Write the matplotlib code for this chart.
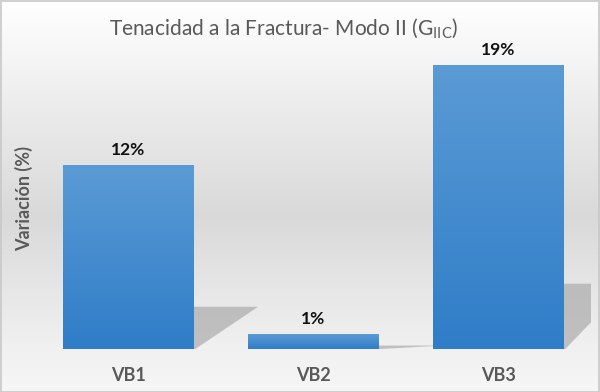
import numpy as np
import matplotlib.pyplot as plt
from matplotlib.colors import LinearSegmentedColormap
from matplotlib.patches import Polygon, Rectangle

categorias = ['VB1', 'VB2', 'VB3']
variacion = [12.3, 1.0, 19.0]
etiquetas = ['12%', '1%', '19%']

plt.rcParams['font.family'] = ['Lato', 'DejaVu Sans']

fig = plt.figure(figsize=(6, 3.92), dpi=100)

# fondo con degradado vertical
bg = fig.add_axes([0, 0, 1, 1], zorder=-10)
bg_cmap = LinearSegmentedColormap.from_list(
    'bg', [(0, '#f6f6f6'), (0.12, '#f0f0f0'), (0.45, '#d9d9d9'), (1, '#ffffff')])
grad = np.linspace(0, 1, 256).reshape(-1, 1)
bg.imshow(grad, aspect='auto', cmap=bg_cmap, extent=[0, 1, 0, 1], origin='lower')
bg.add_patch(Rectangle((0.001, 0.001), 0.998, 0.997, fill=False,
                       edgecolor='#c8c8c8', lw=1.2, transform=bg.transAxes))
bg.axis('off')

ax = fig.add_axes([0.06, 0.1097, 0.925, 0.7627])
ax.set_facecolor('none')
x = np.arange(len(categorias))
ancho = 0.708
bars = ax.bar(x, variacion, width=ancho, color='none', edgecolor='none', zorder=3)

# sombras en perspectiva
for b in bars:
    x1 = b.get_x() + b.get_width()
    h = b.get_height() * 0.23
    w = b.get_width()
    sombra = Polygon([(x1, 0), (x1, h), (x1 + 0.49 * w, h), (x1 + 0.01 * w, 0)],
                     closed=True, facecolor='#ababab', edgecolor='none',
                     alpha=0.7, zorder=2)
    ax.add_patch(sombra)

# barras con degradado
bar_cmap = LinearSegmentedColormap.from_list('barra', ['#2f7dc8', '#5b9bd5'])
for b in bars:
    x0, y0 = b.get_x(), b.get_y()
    im = ax.imshow(grad, aspect='auto', cmap=bar_cmap, origin='lower',
                   extent=[x0, x0 + b.get_width(), y0, y0 + b.get_height()],
                   zorder=3)
    im.set_clip_path(b)

ax.set_xlim(-0.5, 2.5)
ax.set_ylim(0, 20)

for b, txt in zip(bars, etiquetas):
    ax.text(b.get_x() + b.get_width() / 2, b.get_height() + 0.45, txt,
            ha='center', va='bottom', fontsize=12.5, fontweight='bold',
            color='#111111', zorder=5)

ax.set_xticks(x)
ax.set_xticklabels(categorias, fontsize=13, fontweight='bold', color='#595959')
ax.tick_params(axis='x', length=0, pad=13)
ax.set_yticks([])
for s in ax.spines.values():
    s.set_visible(False)

ax.set_ylabel('Variación (%)', fontsize=13, fontweight='bold', color='#595959')
ax.yaxis.set_label_coords(-0.006, 0.505)

fig.text(0.472, 0.927, r'Tenacidad a la Fractura- Modo II (G$\mathregular{_{IIC}}$)',
         ha='center', va='center', fontsize=15, color='#595959')

fig.savefig('out.png', dpi=100)
